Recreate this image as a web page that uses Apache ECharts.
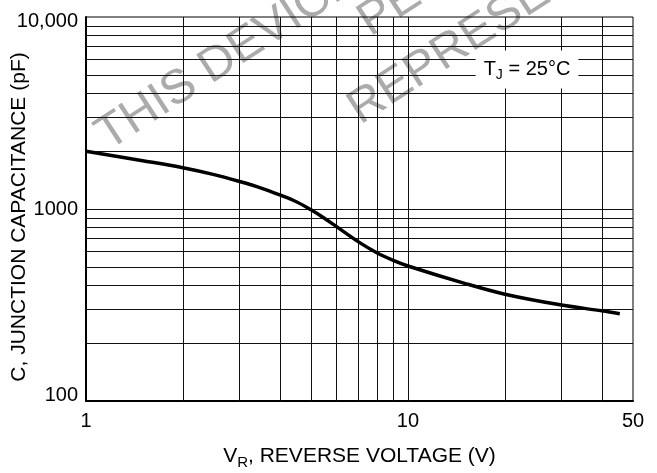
<!DOCTYPE html>
<html><head><meta charset="utf-8">
<script src="https://cdn.jsdelivr.net/npm/echarts@6/dist/echarts.min.js"></script>
<style>html,body{margin:0;padding:0;background:#fff}#c{width:657px;height:473px}</style>
</head><body><div id="c"></div>
<script>
// Data
const reverseVoltage = [1, 1.5, 2, 2.5, 3, 3.5, 4, 4.5, 5, 5.5, 6, 7, 8, 9, 10, 15, 20, 30, 40, 45.5];
const capacitance = [2000, 1785, 1640, 1510, 1390, 1285, 1183, 1091, 990, 895, 809, 676, 592, 540, 505, 410, 360, 316, 295, 285];
const xGridValues = [2, 3, 4, 5, 6, 7, 8, 9, 10, 20, 30, 40];
const yGridValues = [200, 300, 400, 500, 600, 700, 800, 900, 1000, 2000, 3000, 4000, 5000, 6000, 7000, 8000, 9000];
const xTickLabels = [1, 10, 50];
const yTickLabels = [100, 1000, 10000];

const FONT = 'Liberation Sans, Arial, Helvetica, sans-serif';
const chart = echarts.init(document.getElementById('c'), null, {renderer: 'canvas'});

const points = reverseVoltage.map((v, i) => [v, capacitance[i]]);
const rad = a => a * Math.PI / 180;

chart.setOption({
  animation: false,
  backgroundColor: '#fff',
  grid: {left: 86, right: 24, top: 17, bottom: 72, containLabel: false, outerBoundsMode: 'none',
    show: true, borderColor: '#000', borderWidth: 1, backgroundColor: 'transparent'},
  xAxis: {
    type: 'log', logBase: 10, min: 1, max: 50,
    axisLine: {show: true, onZero: false, lineStyle: {color: '#000', width: 2}},
    axisTick: {show: false},
    splitLine: {show: false},
    axisLabel: {customValues: xTickLabels, color: '#000', fontFamily: FONT, fontSize: 20, margin: 10,
      formatter: v => String(v)},
    name: '{n|V}{s|R}{n|, REVERSE VOLTAGE (V)}',
    nameLocation: 'middle', nameGap: 42, nameMoveOverlap: false,
    nameTextStyle: {rich: {
      n: {fontFamily: FONT, fontSize: 21, color: '#000'},
      s: {fontFamily: FONT, fontSize: 15, color: '#000', padding: [12, 0, 0, 0]}
    }}
  },
  yAxis: {
    type: 'log', logBase: 10, min: 100, max: 10000,
    axisLine: {show: true, onZero: false, lineStyle: {color: '#000', width: 2}},
    axisTick: {show: false},
    splitLine: {show: false},
    axisLabel: {customValues: yTickLabels, color: '#000', fontFamily: FONT, fontSize: 20, margin: 8,
      formatter: v => v === 10000 ? '{t|10,000}' : (v === 100 ? '{b|100}' : String(v)),
      rich: {
        t: {fontFamily: FONT, fontSize: 20, color: '#000', padding: [8, 0, 0, 0]},
        b: {fontFamily: FONT, fontSize: 20, color: '#000', padding: [0, 0, 11, 0]}
      }},
    name: 'C, JUNCTION CAPACITANCE (pF)',
    nameLocation: 'middle', nameGap: 56, nameRotate: 90, nameMoveOverlap: false,
    nameTextStyle: {fontFamily: FONT, fontSize: 21, color: '#000', padding: [0, 16, 0, 0]}
  },
  graphic: [
    {type: 'text', x: 114, y: 160, rotation: rad(33), z: -10, silent: true,
      style: {text: 'THIS DEVICE IS NOT RECOMMENDED', fill: '#ababab', font: '48px ' + FONT, verticalAlign: 'bottom', align: 'left'}},
    {type: 'text', x: 376, y: 46, rotation: rad(33), z: -10, silent: true,
      style: {text: 'PE', fill: '#ababab', font: '48px ' + FONT, verticalAlign: 'bottom', align: 'left'}},
    {type: 'text', x: 366, y: 134, rotation: rad(33), z: -10, silent: true,
      style: {text: 'REPRESENTATIVE', fill: '#ababab', font: '48px ' + FONT, verticalAlign: 'bottom', align: 'left'}},
    {type: 'text', x: 527, y: 69.5, z: 100, silent: true,
      style: {text: '{n|T}{s|J}{n| = 25°C}', align: 'center', verticalAlign: 'middle',
        backgroundColor: '#fff', padding: [6, 8, 6, 8],
        rich: {
          n: {fontFamily: FONT, fontSize: 20, fill: '#000'},
          s: {fontFamily: FONT, fontSize: 14, fill: '#000', padding: [12, 0, 0, 0]}
        }}}
  ],
  series: [
    {
      type: 'line', data: [], silent: true, z: 1,
      markLine: {
        silent: true, symbol: 'none', animation: false,
        label: {show: false},
        lineStyle: {color: '#111', width: 1, type: 'solid'},
        emphasis: {disabled: true},
        data: xGridValues.map(v => ({xAxis: v})).concat(yGridValues.map(v => ({yAxis: v})))
      }
    },
    {
      type: 'line', data: points, smooth: 0.35, showSymbol: false, symbol: 'none', z: 5,
      lineStyle: {color: '#000', width: 3.5}
    }
  ]
});
</script>
</body></html>
